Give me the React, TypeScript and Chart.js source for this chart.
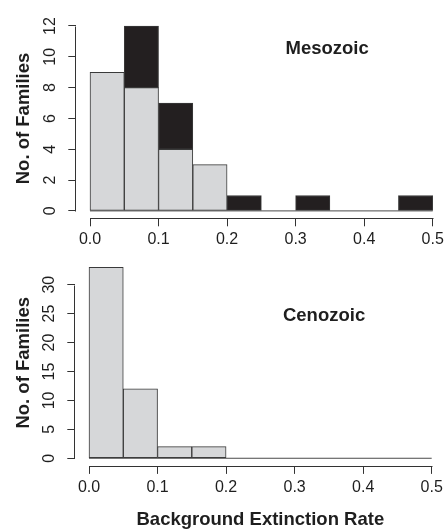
import React, { useEffect, useRef } from 'react';
import { Chart, registerables } from 'chart.js';

Chart.register(...registerables);

// ---- data ----
const BIN_CENTERS = [0.025, 0.075, 0.125, 0.175, 0.225, 0.275, 0.325, 0.375, 0.425, 0.475];
const MESO_GRAY = [9, 8, 4, 3, 0, 0, 0, 0, 0, 0];
const MESO_BLACK = [0, 4, 3, 0, 1, 0, 1, 0, 0, 1];
const CENO_GRAY = [33, 12, 2, 2, 0, 0, 0, 0, 0, 0];
const X_TICKS = [0, 0.1, 0.2, 0.3, 0.4, 0.5];
const MESO_Y_TICKS = [0, 2, 4, 6, 8, 10, 12];
const CENO_Y_TICKS = [0, 5, 10, 15, 20, 25, 30];
const X_LIMITS = [0, 0.5];
const MESO_Y_LIMITS = [0, 12];
const CENO_Y_LIMITS = [0, 33];
const PANEL_LABELS = ['Mesozoic', 'Cenozoic'];
const PANEL_LABEL_X = [0.346, 0.343];
const PANEL_LABEL_Y = [10.5, 24.6];
const Y_TITLE = 'No. of Families';
const X_TITLE = 'Background Extinction Rate';

const FONT = '"Liberation Sans", Arial, Helvetica, sans-serif';
const GRAY = '#d6d7d9';
const BLACK = '#231f20';
const EDGE = '#3a3a3a';
const AXIS = '#333333';
const TEXT = '#1e1e1e';

Chart.defaults.font.family = FONT;

const rAxisPlugin = {
  id: 'rAxis',
  afterDraw(chart: any) {
    const ctx = chart.ctx;
    ctx.save();
    ctx.strokeStyle = AXIS;
    ctx.lineWidth = 1;
    const xs = chart.scales.x;
    const ys = chart.scales.y;
    const xt = xs.ticks;
    const yt = ys.ticks;
    const ay = Math.round(xs.top) + 0.5;
    ctx.beginPath();
    ctx.moveTo(Math.round(xs.getPixelForValue(xt[0].value)) + 0.5, ay);
    ctx.lineTo(Math.round(xs.getPixelForValue(xt[xt.length - 1].value)) + 0.5, ay);
    ctx.stroke();
    const ax = Math.round(ys.right) - 0.5;
    ctx.beginPath();
    ctx.moveTo(ax, Math.round(ys.getPixelForValue(yt[0].value)) + 0.5);
    ctx.lineTo(ax, Math.round(ys.getPixelForValue(yt[yt.length - 1].value)) + 0.5);
    ctx.stroke();
    ctx.restore();
  },
};

const panelLabelPlugin = {
  id: 'panelLabel',
  afterDraw(chart: any, _args: any, opts: any) {
    const ctx = chart.ctx;
    ctx.save();
    ctx.font = `bold 18.5px ${FONT}`;
    ctx.fillStyle = TEXT;
    ctx.textAlign = 'center';
    ctx.textBaseline = 'middle';
    ctx.fillText(
      opts.text,
      chart.scales.x.getPixelForValue(opts.x),
      chart.scales.y.getPixelForValue(opts.y)
    );
    ctx.restore();
  },
};

type PanelSpec = {
  bars: { values: number[]; color: string }[];
  yTicks: number[];
  yLimits: number[];
  area: { left: number; right: number; top: number; bottom: number };
  w: number;
  h: number;
  xTitle: string | null;
  labelIdx: number;
};

function makeConfig(p: PanelSpec): any {
  const xr = X_LIMITS[1] - X_LIMITS[0];
  const yr = p.yLimits[1] - p.yLimits[0];
  const datasets: any[] = p.bars.map((b) => ({
    type: 'bar',
    data: BIN_CENTERS.map((x, i) => ({ x, y: b.values[i] })),
    backgroundColor: b.color,
    borderColor: EDGE,
    borderWidth: 1,
    borderSkipped: false,
    barPercentage: 1,
    categoryPercentage: 1,
    stack: 'hist',
    order: 2,
  }));
  datasets.push({
    type: 'line',
    data: X_LIMITS.map((x) => ({ x, y: 0 })),
    borderColor: '#4a4a4a',
    borderWidth: 1,
    pointRadius: 0,
    stack: 'base',
    order: 1,
  });
  return {
    type: 'bar',
    data: { datasets },
    plugins: [rAxisPlugin, panelLabelPlugin],
    options: {
      animation: false,
      responsive: false,
      events: [],
      layout: {
        padding: { left: 0, top: p.area.top, right: p.w - p.area.right, bottom: 0 },
      },
      plugins: {
        legend: { display: false },
        tooltip: { enabled: false },
        panelLabel: {
          text: PANEL_LABELS[p.labelIdx],
          x: PANEL_LABEL_X[p.labelIdx],
          y: PANEL_LABEL_Y[p.labelIdx],
        },
      },
      scales: {
        x: {
          type: 'linear',
          stacked: true,
          offset: false,
          min: X_LIMITS[0] - 0.04 * xr,
          max: X_LIMITS[1] + 0.04 * xr,
          afterBuildTicks: (s: any) => {
            s.ticks = X_TICKS.map((v) => ({ value: v }));
          },
          afterFit: (s: any) => {
            s.height = p.h - p.area.bottom;
          },
          grid: {
            offset: false,
            drawOnChartArea: false,
            drawTicks: true,
            tickLength: 8,
            color: AXIS,
            lineWidth: 1,
          },
          border: { display: false },
          ticks: {
            autoSkip: false,
            maxRotation: 0,
            minRotation: 0,
            padding: 4,
            color: TEXT,
            font: { size: 16, family: FONT },
            callback: (v: any) => Number(v).toFixed(1),
          },
          title: p.xTitle
            ? {
                display: true,
                text: p.xTitle,
                color: TEXT,
                font: { size: 18.5, weight: 'bold', family: FONT },
                padding: { top: 0, bottom: 9 },
              }
            : { display: false },
        },
        y: {
          type: 'linear',
          stacked: true,
          min: p.yLimits[0] - 0.04 * yr,
          max: p.yLimits[1] + 0.04 * yr,
          afterBuildTicks: (s: any) => {
            s.ticks = p.yTicks.map((v) => ({ value: v }));
          },
          afterFit: (s: any) => {
            s.width = p.area.left;
          },
          grid: {
            drawOnChartArea: false,
            drawTicks: true,
            tickLength: 8,
            color: AXIS,
            lineWidth: 1,
          },
          border: { display: false },
          ticks: {
            autoSkip: false,
            minRotation: 90,
            maxRotation: 90,
            crossAlign: 'center',
            padding: 9,
            color: TEXT,
            font: { size: 16, family: FONT },
            callback: (v: any) => String(v),
          },
          title: {
            display: true,
            text: Y_TITLE,
            color: TEXT,
            font: { size: 18.5, weight: 'bold', family: FONT },
            padding: { top: 13, bottom: 0 },
          },
        },
      },
    },
  };
}

function Panel({ spec, top }: { spec: PanelSpec; top: number }) {
  const ref = useRef<HTMLCanvasElement>(null);
  useEffect(() => {
    const chart = new Chart(ref.current as HTMLCanvasElement, makeConfig(spec));
    return () => chart.destroy();
  }, []);
  return (
    <canvas
      ref={ref}
      width={spec.w}
      height={spec.h}
      style={{ position: 'absolute', left: 0, top, width: spec.w, height: spec.h, display: 'block' }}
    />
  );
}

const MESO_SPEC: PanelSpec = {
  bars: [
    { values: MESO_GRAY, color: GRAY },
    { values: MESO_BLACK, color: BLACK },
  ],
  yTicks: MESO_Y_TICKS,
  yLimits: MESO_Y_LIMITS,
  area: { left: 76.3, right: 446.4, top: 12.4, bottom: 218.3 },
  w: 470,
  h: 262,
  xTitle: null,
  labelIdx: 0,
};

const CENO_SPEC: PanelSpec = {
  bars: [{ values: CENO_GRAY, color: GRAY }],
  yTicks: CENO_Y_TICKS,
  yLimits: CENO_Y_LIMITS,
  area: { left: 75.3, right: 445.4, top: 19.7, bottom: 225.9 },
  w: 470,
  h: 300,
  xTitle: X_TITLE,
  labelIdx: 1,
};

export default function App() {
  return (
    <div
      style={{
        position: 'absolute',
        left: 0,
        top: 0,
        width: 445,
        height: 529,
        overflow: 'hidden',
        background: '#ffffff',
      }}
    >
      <Panel spec={MESO_SPEC} top={0} />
      <Panel spec={CENO_SPEC} top={240} />
    </div>
  );
}
